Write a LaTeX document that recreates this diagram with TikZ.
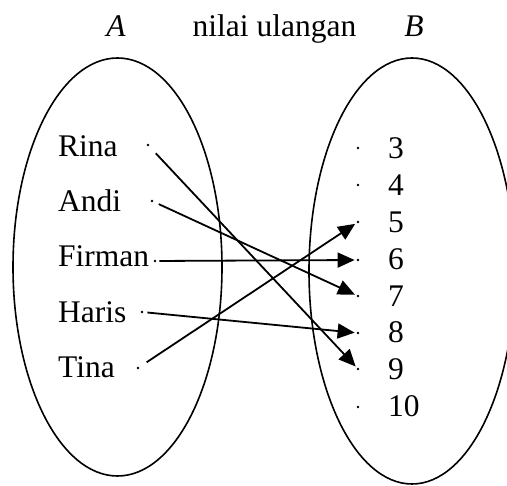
\documentclass[tikz,border=0pt]{standalone}
\usepackage{fontspec}
\setmainfont{Liberation Serif}
\usetikzlibrary{arrows.meta}
\tikzset{
  lbl/.style={anchor=base west, inner sep=0pt, font=\fontsize{31.5}{36}\selectfont},
  ttl/.style={anchor=base, inner sep=0pt, font=\fontsize{31.5}{36}\selectfont},
  pt/.style={circle, fill=black, inner sep=0pt, minimum size=2.8pt, outer sep=0pt},
  setline/.style={line width=1.6pt},
  map/.style={line width=1.8pt, -{Triangle[length=17pt,width=15pt]}, shorten >=2pt}
}
\begin{document}
\begin{tikzpicture}[x=1pt,y=-1pt]
\useasboundingbox (0,0) rectangle (507,486);
\begin{scope}
\clip (0,0) rectangle (507,486);
\draw[setline] (117.5,267) ellipse [x radius=104.5, y radius=209];
\draw[setline] (412,271) ellipse [x radius=103, y radius=213];
\end{scope}
% titles
\node[ttl] (tA) at (116,37) {\itshape A};
\node[ttl] (tN) at (274.5,37) {nilai ulangan};
\node[ttl] (tB) at (414,37) {\itshape B};
% left labels
\node[lbl] (lR) at (58,157) {Rina};
\node[lbl] (lA) at (58,212) {Andi};
\node[lbl] (lF) at (58,267) {Firman};
\node[lbl] (lH) at (58,323) {Haris};
\node[lbl] (lT) at (58,378) {Tina};
% left dots
\node[pt] (dR) at (148,145) {};
\node[pt] (dA) at (152,201) {};
\node[pt] (dF) at (155,261) {};
\node[pt] (dH) at (142,312) {};
\node[pt] (dT) at (138,368) {};
% right labels
\node[lbl] (r3) at (388,159) {3};
\node[lbl] (r4) at (388,196) {4};
\node[lbl] (r5) at (388,233) {5};
\node[lbl] (r6) at (388,270) {6};
\node[lbl] (r7) at (388,307) {7};
\node[lbl] (r8) at (388,343) {8};
\node[lbl] (r9) at (388,380) {9};
\node[lbl] (r10) at (388,417) {10};
% right dots
\node[pt] (e3) at (358,148) {};
\node[pt] (e4) at (358,185) {};
\node[pt] (e5) at (358,222) {};
\node[pt] (e6) at (358,260) {};
\node[pt] (e7) at (358,296) {};
\node[pt] (e8) at (358,333) {};
\node[pt] (e9) at (358,369) {};
\node[pt] (e10) at (358,407) {};
% mappings
\draw[map, shorten <=10pt] (dR) -- (e9);
\draw[map, shorten <=6pt] (dA) -- (e7);
\draw[map, shorten <=3pt] (dF) -- (e6);
\draw[map, shorten <=4pt] (dH) -- (e8);
\draw[map, shorten <=9pt] (dT) -- (e5);
\end{tikzpicture}
\end{document}
